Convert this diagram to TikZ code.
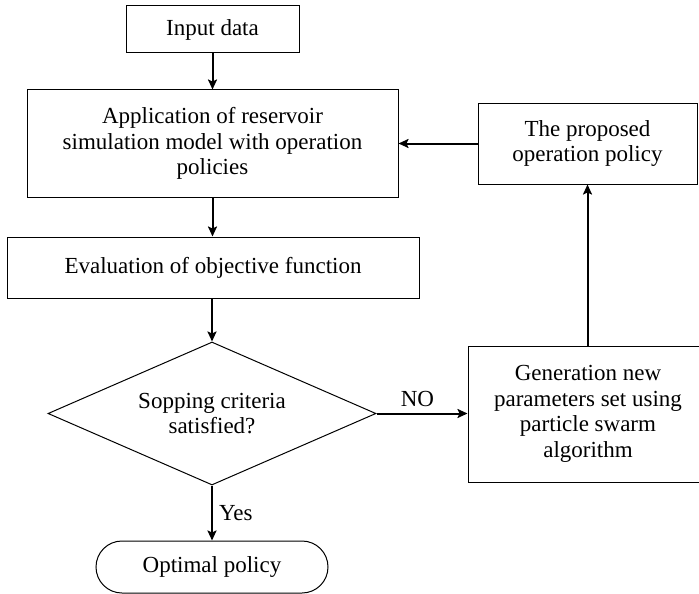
\documentclass[tikz,border=0pt]{standalone}
\usepackage{fontspec}
\setmainfont{Liberation Serif}
\usetikzlibrary{arrows.meta,shapes.geometric}
\begin{document}
\begin{tikzpicture}[x=1pt,y=-1pt,
  box/.style={draw, line width=1pt, inner sep=0pt, align=center,
    font=\fontsize{23}{25.5}\selectfont},
  flow/.style={line width=2pt, -{Stealth[length=10pt,width=9pt,inset=2pt]}},
  lbl/.style={font=\fontsize{23}{25.5}\selectfont, inner sep=0pt}]
\useasboundingbox (0,0) rectangle (699,594);
\node[box, minimum width=173pt, minimum height=47pt] (input) at (212.5,29.5) {Input data};
\node[box, minimum width=371pt, minimum height=107pt] (app) at (212.5,143.5)
  {Application of reservoir\\simulation model with operation\\policies};
\node[box, minimum width=219pt, minimum height=81pt] (prop) at (587.5,143.5)
  {The proposed\\operation policy};
\node[box, minimum width=412pt, minimum height=61pt] (eval) at (213,267.5)
  {Evaluation of objective function};
\node[box, diamond, aspect=2.29, minimum width=328pt, minimum height=143pt] (dec) at (212,413.5)
  {Sopping criteria\\satisfied?};
\node[box, minimum width=240pt, minimum height=136pt] (gen) at (588,414)
  {Generation new\\parameters set using\\particle swarm\\algorithm};
\node[box, rounded corners=26pt, minimum width=232pt, minimum height=52pt] (opt) at (212,567)
  {Optimal policy};
\draw[flow] (input.south -| 212.5,0) -- (app.north -| 212.5,0);
\draw[flow] (app.south -| 212.5,0) -- (eval.north -| 212.5,0);
\draw[flow] (eval.south -| dec.north) -- (dec.north);
\draw[flow] (dec.east) -- (gen.west |- dec.east) node[lbl, pos=0.45, above=6pt] (no) {NO};
\draw[flow] (gen.north -| prop.south) -- (prop.south);
\draw[flow] (prop.west) -- (app.east);
\draw[flow] (dec.south) -- (opt.north -| dec.south) node[lbl, midway, right=6pt] (yes) {Yes};
\end{tikzpicture}
\end{document}
